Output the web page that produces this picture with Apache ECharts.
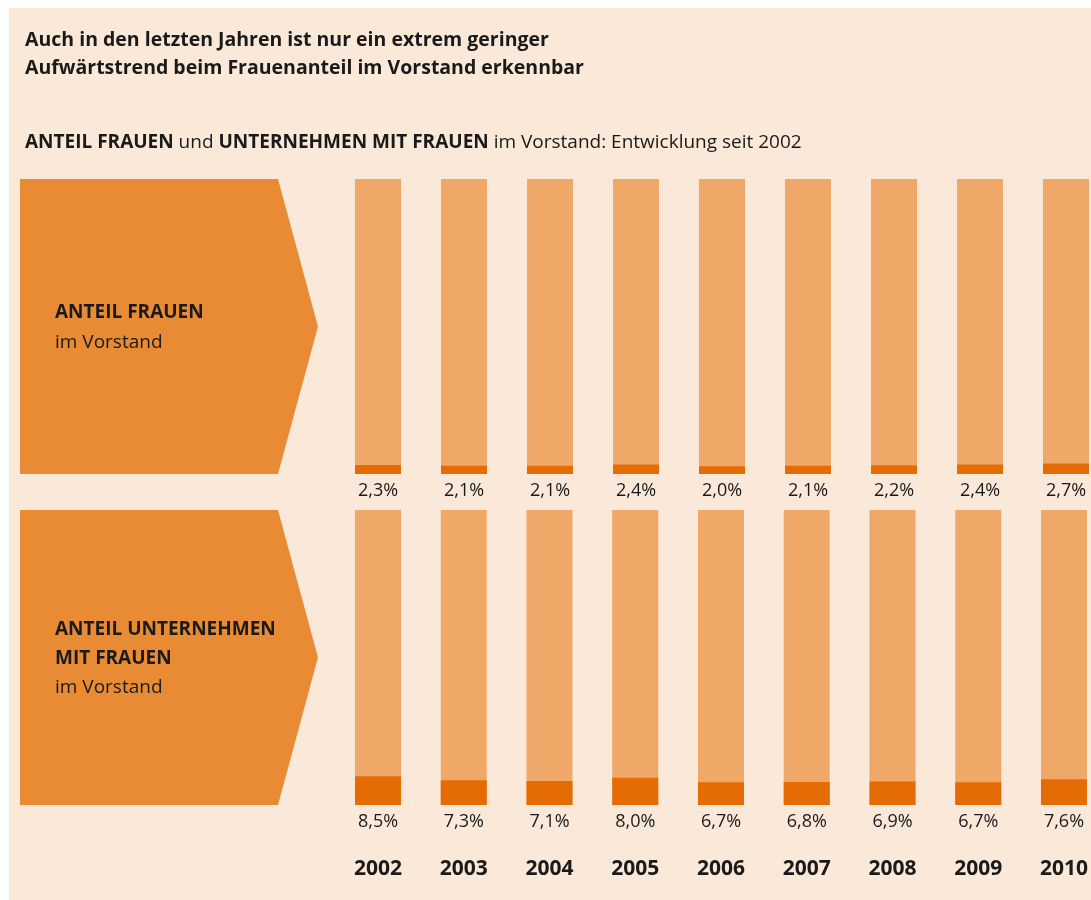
<!DOCTYPE html>
<html>
<head>
<meta charset="utf-8">
<script src="https://cdn.jsdelivr.net/npm/echarts@6/dist/echarts.min.js"></script>
<style>
  html, body { margin: 0; padding: 0; background: #fff; }
  #chart { width: 1091px; height: 900px; }
</style>
</head>
<body>
<div id="chart"></div>
<script>
var years = ['2002', '2003', '2004', '2005', '2006', '2007', '2008', '2009', '2010'];
// Anteil Frauen im Vorstand (%)
var anteilFrauen = [2.3, 2.1, 2.1, 2.4, 2.0, 2.1, 2.2, 2.4, 2.7];
// Anteil Unternehmen mit Frauen im Vorstand (%)
var anteilUnternehmen = [8.5, 7.3, 7.1, 8.0, 6.7, 6.8, 6.9, 6.7, 7.6];

var FONT = '"Open Sans"';
var BG = '#fae8d9';
var ARROW = '#e98a35';
var BAR_BG = '#f0a869';
var BAR = '#e56c05';
var TXT = '#1a1a1a';

function pct(p) {
    return p.value.toFixed(1).replace('.', ',') + '%';
}

// pfeil-form links
function arrow(top, h) {
    return {
        type: 'polygon',
        shape: {
            points: [[20, top], [278, top], [318, top + h / 2], [278, top + h], [20, top + h]]
        },
        style: { fill: ARROW }
    };
}

function barSeries(name, idx, data) {
    return {
        name: name,
        type: 'bar',
        xAxisIndex: idx, yAxisIndex: idx,
        data: data,
        barWidth: 46,
        clip: false,
        itemStyle: { color: BAR },
        showBackground: true,
        backgroundStyle: { color: BAR_BG },
        label: {
            show: true, position: 'bottom', distance: 8,
            formatter: pct, fontFamily: FONT, fontSize: 18, color: TXT
        }
    };
}

var chart = echarts.init(document.getElementById('chart'));
chart.setOption({
    backgroundColor: '#fff',
    animation: false,
    textStyle: { fontFamily: FONT },
    title: [
        {
            text: 'Auch in den letzten Jahren ist nur ein extrem geringer\nAufwärtstrend beim Frauenanteil im Vorstand erkennbar',
            left: 20, top: 21,
            textStyle: { fontFamily: FONT, fontSize: 19.5, fontWeight: 'bold', color: TXT, lineHeight: 28 }
        },
        {
            text: '{b|ANTEIL FRAUEN} und {b|UNTERNEHMEN MIT FRAUEN} im Vorstand: Entwicklung seit 2002',
            left: 20, top: 128,
            textStyle: {
                fontFamily: FONT, fontSize: 19, fontWeight: 'normal', color: TXT,
                rich: { b: { fontFamily: FONT, fontSize: 19, fontWeight: 'bold', color: TXT } }
            }
        }
    ],
    graphic: [
        { type: 'rect', z: -10, shape: { x: 9, y: 8, width: 1082, height: 892 }, style: { fill: BG } },
        arrow(179, 295),
        arrow(510, 295),
        {
            type: 'text', left: 55, top: 298,
            style: {
                text: '{b|ANTEIL FRAUEN}\nim Vorstand',
                font: '19px ' + FONT, fill: TXT, lineHeight: 30,
                rich: { b: { fontWeight: 'bold', fontSize: 19, fontFamily: FONT, fill: TXT, lineHeight: 30 } }
            }
        },
        {
            type: 'text', left: 55, top: 615,
            style: {
                text: '{b|ANTEIL UNTERNEHMEN}\n{b|MIT FRAUEN}\nim Vorstand',
                font: '19px ' + FONT, fill: TXT, lineHeight: 29,
                rich: { b: { fontWeight: 'bold', fontSize: 19, fontFamily: FONT, fill: TXT, lineHeight: 29 } }
            }
        }
    ],
    grid: [
        { left: 378, top: 179, width: 688, height: 295 },
        { left: 378, top: 510, width: 688, height: 295 }
    ],
    xAxis: [
        {
            type: 'category', gridIndex: 0, data: years, boundaryGap: false,
            axisLine: { show: false }, axisTick: { show: false }, axisLabel: { show: false },
            splitLine: { show: false }
        },
        {
            type: 'category', gridIndex: 1, data: years, boundaryGap: false,
            axisLine: { show: false }, axisTick: { show: false }, splitLine: { show: false },
            axisLabel: { margin: 54, fontFamily: FONT, fontSize: 21, fontWeight: 'bold', color: TXT }
        }
    ],
    yAxis: [
        { type: 'value', gridIndex: 0, min: 0, max: 75, show: false },
        { type: 'value', gridIndex: 1, min: 0, max: 87, show: false }
    ],
    series: [
        barSeries('Anteil Frauen', 0, anteilFrauen),
        barSeries('Anteil Unternehmen mit Frauen', 1, anteilUnternehmen)
    ]
});
</script>
</body>
</html>
